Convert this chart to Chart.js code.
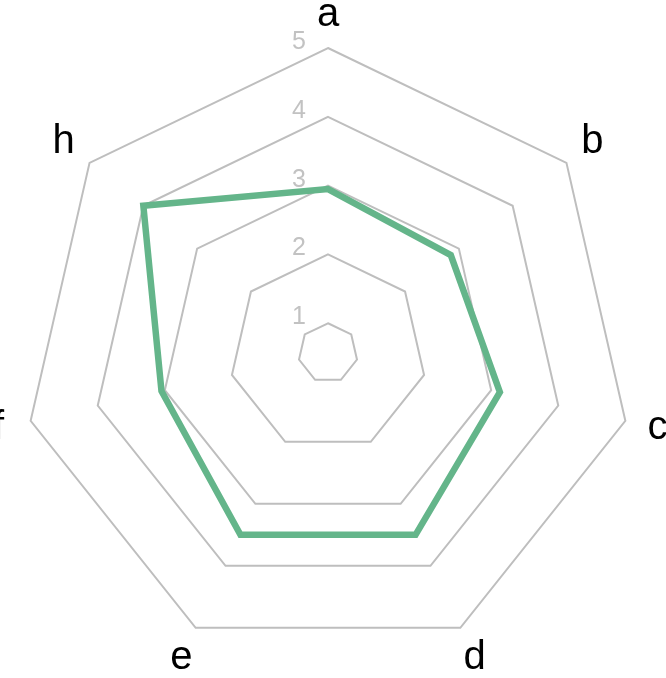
<!DOCTYPE html>
<html>
<head>
<meta charset="utf-8">
<script src="https://cdn.jsdelivr.net/npm/chart.js@4"></script>
<style>
  html, body { margin: 0; padding: 0; background: #fff; }
  #wrap { width: 666px; height: 678px; position: relative; }
</style>
</head>
<body>
<div id="wrap"><canvas id="radar"></canvas></div>
<script>
// chart data
const labels = ['a', 'b', 'c', 'd', 'e', 'f', 'h']
const values = [2.95, 2.85, 3.13, 3.5, 3.5, 3.05, 4.0]
const tickValues = [1, 2, 3, 4, 5]
const scaleMin = 0.568
const scaleMax = 5

// draws the axis letters and the grey level numbers
const textPlugin = {
    id: 'radarText',
    afterDraw(chart) {
        const scale = chart.scales.r
        const ctx = chart.ctx
        ctx.save()

        ctx.font = '25px "Liberation Sans", Arial, sans-serif'
        ctx.fillStyle = '#c2c2c2'
        ctx.textAlign = 'center'
        ctx.textBaseline = 'middle'
        tickValues.forEach(v => {
            const p = scale.getPointPositionForValue(0, v)
            ctx.fillText(String(v), p.x - 29, p.y - 6)
        })

        ctx.font = '40px "Liberation Sans", Arial, sans-serif'
        ctx.fillStyle = '#000'
        labels.forEach((lab, i) => {
            const p = scale.getPointPosition(i, scale.drawingArea + 33)
            ctx.fillText(lab, p.x, p.y)
        })
        ctx.restore()
    }
}

const ctx = document.getElementById('radar').getContext('2d')
const radarChart = new Chart(ctx, {
    type: 'radar',
    data: {
        labels: labels,
        datasets: [{
            data: values,
            borderColor: '#64b58a',
            borderWidth: 6.5,
            borderJoinStyle: 'miter',
            backgroundColor: 'rgba(0,0,0,0)',
            fill: false,
            pointRadius: 0,
            pointHoverRadius: 0,
            tension: 0
        }]
    },
    options: {
        responsive: true,
        maintainAspectRatio: false,
        animation: false,
        layout: {
            padding: { left: 23, right: 33, top: 48, bottom: 20 }
        },
        plugins: {
            legend: { display: false },
            tooltip: { enabled: false }
        },
        scales: {
            r: {
                min: scaleMin,
                max: scaleMax,
                beginAtZero: false,
                afterBuildTicks(scale) {
                    scale.ticks = [{ value: scaleMin }].concat(tickValues.map(v => ({ value: v })))
                },
                angleLines: { display: false },
                grid: { color: '#bebebe', lineWidth: 2 },
                pointLabels: { display: false },
                ticks: { display: false }
            }
        }
    },
    plugins: [textPlugin]
})
</script>
</body>
</html>
